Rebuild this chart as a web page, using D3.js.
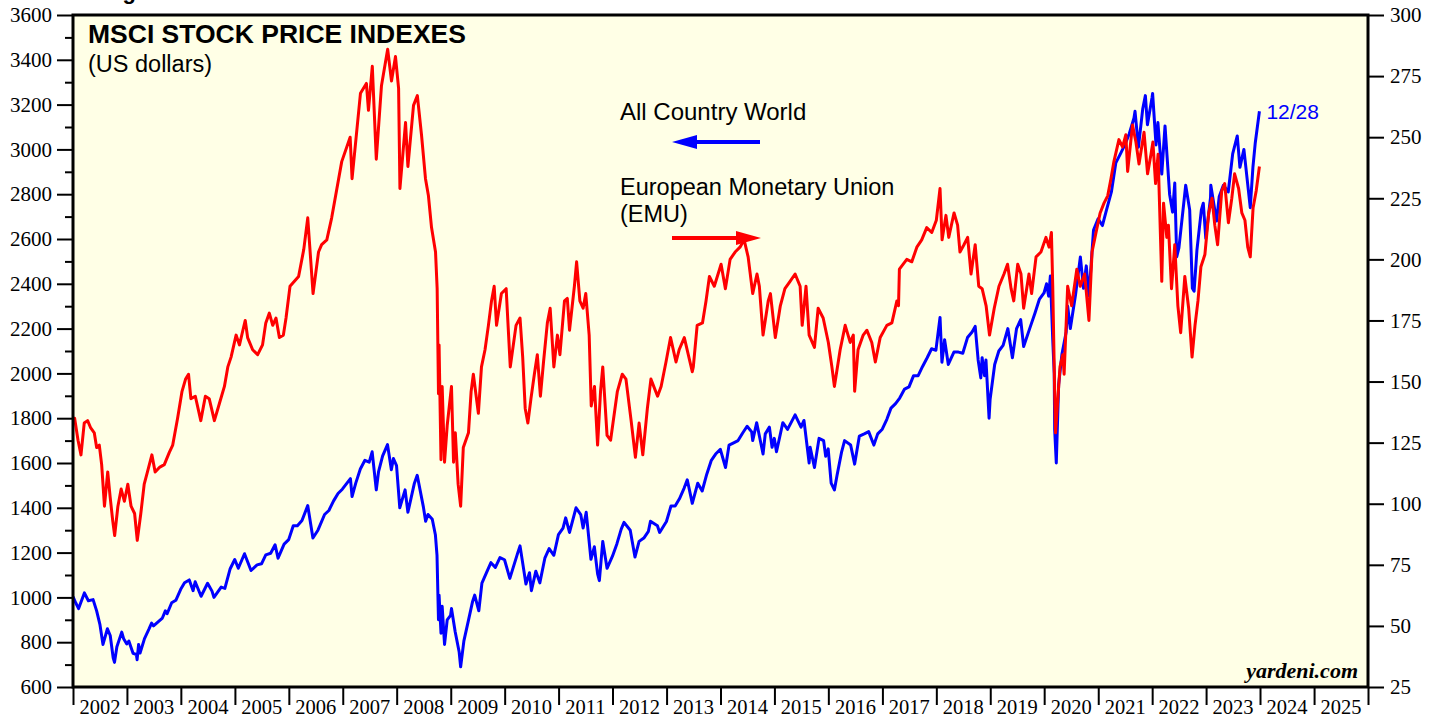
<!DOCTYPE html>
<html><head><meta charset="utf-8">
<script src="https://cdn.jsdelivr.net/npm/d3@7"></script>
<style>body{margin:0;background:#fff}svg{display:block}</style>
</head><body><svg id="c" width="1439" height="719"></svg>
<script>
// ---------- DATA ----------
const worldDates = ["2002-01-01","2002-01-20","2002-02-08","2002-03-19","2002-04-15","2002-05-17","2002-06-10","2002-07-02","2002-07-23","2002-08-22","2002-09-10","2002-09-30","2002-10-09","2002-10-25","2002-11-27","2002-12-10","2002-12-31",
"2003-01-14","2003-02-12","2003-03-06","2003-03-11","2003-03-21","2003-03-31","2003-04-30","2003-05-30","2003-06-17","2003-06-30","2003-07-31","2003-08-29","2003-09-18","2003-09-30","2003-10-31","2003-11-28","2003-12-31",
"2004-01-26","2004-02-27","2004-03-24","2004-04-07","2004-05-17","2004-06-30","2004-07-30","2004-08-12","2004-09-30","2004-10-25","2004-11-30","2004-12-31",
"2005-01-24","2005-03-07","2005-04-20","2005-05-31","2005-06-30","2005-07-29","2005-08-31","2005-09-30","2005-10-20","2005-11-30","2005-12-31",
"2006-01-31","2006-02-28","2006-03-31","2006-05-09","2006-06-13","2006-07-17","2006-08-31","2006-09-29","2006-10-31","2006-11-30","2006-12-29",
"2007-02-22","2007-03-05","2007-03-30","2007-04-30","2007-05-31","2007-06-29","2007-07-19","2007-08-16","2007-08-31","2007-09-28","2007-10-31","2007-11-26","2007-12-10","2007-12-31",
"2008-01-22","2008-02-27","2008-03-17","2008-04-30","2008-05-19","2008-06-30","2008-07-15","2008-07-31","2008-08-29","2008-09-19","2008-09-30","2008-10-10","2008-10-14","2008-10-27","2008-11-04","2008-11-20","2008-12-08","2008-12-31",
"2009-01-06","2009-01-31","2009-02-27","2009-03-09","2009-03-31","2009-04-30","2009-05-29","2009-06-12","2009-07-10","2009-07-31","2009-08-31","2009-09-30","2009-10-30","2009-11-30","2009-12-31",
"2010-02-05","2010-03-31","2010-04-15","2010-05-25","2010-06-18","2010-07-01","2010-07-31","2010-08-27","2010-09-30","2010-10-29","2010-11-30","2010-12-31",
"2011-01-31","2011-02-18","2011-03-16","2011-04-29","2011-05-31","2011-06-16","2011-07-07","2011-08-08","2011-08-31","2011-09-22","2011-10-04","2011-10-27","2011-11-25","2011-12-31",
"2012-01-31","2012-02-29","2012-03-19","2012-04-30","2012-06-01","2012-06-29","2012-07-31","2012-08-31","2012-09-14","2012-10-31","2012-11-15","2012-12-31",
"2013-01-31","2013-02-28","2013-03-29","2013-04-30","2013-05-21","2013-06-24","2013-07-31","2013-08-30","2013-09-30","2013-10-31","2013-11-29","2013-12-31",
"2014-02-04","2014-02-28","2014-03-31","2014-04-30","2014-05-30","2014-06-30","2014-07-31","2014-08-07","2014-09-03","2014-10-16","2014-10-31","2014-11-28","2014-12-16","2014-12-31",
"2015-01-15","2015-02-27","2015-03-31","2015-05-21","2015-06-30","2015-07-20","2015-08-24","2015-08-31","2015-09-29","2015-10-30","2015-11-30","2015-12-14","2015-12-31",
"2016-01-20","2016-02-11","2016-02-29","2016-03-31","2016-04-20","2016-05-31","2016-06-27","2016-07-29","2016-08-31","2016-09-30","2016-11-04","2016-11-30","2016-12-31",
"2017-01-31","2017-02-28","2017-03-31","2017-04-28","2017-05-31","2017-06-30","2017-07-31","2017-08-31","2017-09-29","2017-10-31","2017-11-30","2017-12-29",
"2018-01-26","2018-02-08","2018-02-26","2018-03-23","2018-04-30","2018-05-31","2018-06-29","2018-07-31","2018-08-31","2018-09-21","2018-10-11","2018-10-29","2018-11-07","2018-11-23","2018-12-03","2018-12-24","2018-12-31",
"2019-01-31","2019-02-28","2019-03-29","2019-04-30","2019-05-31","2019-06-28","2019-07-26","2019-08-15","2019-09-30","2019-10-31","2019-11-29","2019-12-31",
"2020-01-17","2020-01-31","2020-02-12","2020-02-28","2020-03-09","2020-03-12","2020-03-23","2020-04-08","2020-04-30","2020-05-29","2020-06-08","2020-06-26","2020-07-31","2020-09-02","2020-09-23","2020-10-12","2020-10-30","2020-11-30","2020-12-31",
"2021-01-29","2021-02-26","2021-03-31","2021-04-30","2021-05-31","2021-06-30","2021-07-30","2021-08-31","2021-09-07","2021-09-30","2021-10-29","2021-11-16","2021-11-30","2021-12-31",
"2022-01-04","2022-01-27","2022-02-09","2022-03-07","2022-03-29","2022-04-29","2022-05-19","2022-06-03","2022-06-16","2022-07-01","2022-08-16","2022-09-12","2022-09-30","2022-10-12","2022-10-31","2022-11-30","2022-12-13","2022-12-30",
"2023-01-31","2023-02-02","2023-03-13","2023-03-31","2023-04-28","2023-05-31","2023-06-30","2023-07-31","2023-08-18","2023-09-14","2023-10-27","2023-11-14","2023-11-30","2023-12-28"];
const worldValues = [1003,975,950,1020,985,990,940,880,790,860,830,730,710,780,845,815,792,
805,750,745,722,790,752,816,858,885,873,891,908,940,927,976,987,1036,
1065,1078,1030,1070,1005,1063,1028,1000,1046,1040,1128,1169,
1130,1195,1120,1145,1150,1190,1197,1235,1175,1238,1258,
1320,1320,1343,1410,1265,1300,1370,1388,1431,1464,1483,
1530,1450,1510,1573,1612,1604,1650,1480,1560,1632,1682,1570,1620,1588,
1400,1480,1380,1510,1545,1403,1340,1370,1349,1280,1188,900,1010,840,960,790,900,920,
950,847,756,690,806,895,982,1010,940,1064,1111,1155,1134,1178,1168,
1085,1200,1230,1060,1110,1030,1117,1065,1175,1218,1188,1280,
1309,1355,1290,1400,1370,1310,1380,1170,1226,1105,1075,1250,1130,1183,
1240,1305,1335,1300,1180,1250,1265,1295,1340,1320,1290,1339,
1408,1408,1440,1488,1525,1420,1510,1475,1550,1612,1640,1661,
1580,1680,1690,1700,1733,1764,1739,1700,1780,1640,1730,1760,1670,1710,
1650,1780,1750,1815,1760,1790,1600,1670,1580,1710,1700,1630,1663,
1510,1480,1545,1650,1700,1680,1595,1720,1730,1740,1680,1730,1751,
1795,1845,1865,1890,1930,1940,1990,1990,2030,2070,2110,2103,
2250,2050,2150,2040,2095,2095,2090,2160,2185,2210,2060,1980,2070,1990,2060,1800,1884,
2040,2100,2125,2200,2070,2200,2240,2120,2210,2270,2330,2359,
2400,2345,2435,2150,2000,1750,1600,1950,2085,2185,2300,2200,2350,2520,2380,2480,2345,2640,2690,
2660,2730,2810,2940,2980,3020,3070,3140,3170,3010,3180,3240,3110,3231,
3250,3020,3120,2890,3105,2800,2720,2850,2520,2560,2840,2730,2380,2367,2550,2730,2760,2603,
2785,2840,2680,2790,2840,2810,2980,3060,2920,3000,2740,2920,3030,3170];

const emuDates = ["2002-01-01","2002-01-12","2002-02-04","2002-02-24","2002-03-18","2002-04-10","2002-05-01","2002-05-25","2002-06-10","2002-06-28","2002-07-14","2002-08-02","2002-08-24","2002-09-09","2002-09-27","2002-10-10","2002-11-01","2002-11-23","2002-12-15",
"2003-01-07","2003-01-29","2003-02-22","2003-03-12","2003-04-05","2003-04-28","2003-05-20","2003-06-19","2003-07-11","2003-08-12","2003-09-11","2003-10-15","2003-11-07","2003-12-10",
"2004-01-09","2004-02-02","2004-02-22","2004-03-09","2004-04-08","2004-05-15","2004-06-15","2004-07-11","2004-08-15","2004-09-18","2004-10-22","2004-11-14","2004-12-06",
"2005-01-09","2005-02-01","2005-02-24","2005-03-12","2005-03-28","2005-05-01","2005-06-04","2005-07-07","2005-07-29","2005-08-22","2005-09-14","2005-10-06","2005-10-29","2005-11-25","2005-12-13",
"2006-01-09","2006-03-08","2006-04-12","2006-05-09","2006-06-14","2006-07-21","2006-08-11","2006-09-15","2006-10-18","2006-12-25",
"2007-02-20","2007-03-05","2007-05-01","2007-06-10","2007-06-24","2007-07-20","2007-08-16","2007-09-20","2007-11-01","2007-11-27","2007-12-24",
"2008-01-14","2008-01-23","2008-03-01","2008-03-17","2008-04-24","2008-05-20","2008-06-17","2008-07-14","2008-08-03","2008-08-24","2008-09-20","2008-10-01","2008-10-10","2008-10-14","2008-10-27","2008-11-04","2008-11-20","2008-12-08",
"2009-01-06","2009-01-20","2009-02-01","2009-02-20","2009-03-09","2009-03-27","2009-05-01","2009-05-19","2009-06-03","2009-07-07","2009-07-28","2009-08-21","2009-09-13","2009-10-04","2009-10-22","2009-11-07","2009-12-10",
"2010-01-11","2010-02-08","2010-03-19","2010-04-15","2010-05-03","2010-05-20","2010-06-07","2010-06-28","2010-07-21","2010-08-10","2010-08-31","2010-09-21","2010-10-17","2010-11-05","2010-11-30","2010-12-24",
"2011-01-10","2011-02-10","2011-03-01","2011-03-16","2011-04-18","2011-05-03","2011-05-25","2011-06-16","2011-07-04","2011-07-27","2011-08-10","2011-09-01","2011-09-22","2011-10-12","2011-10-27","2011-11-25","2011-12-19",
"2012-02-03","2012-03-07","2012-04-01","2012-05-06","2012-06-04","2012-06-29","2012-07-24","2012-08-24","2012-09-17","2012-11-01","2012-11-25","2012-12-28",
"2013-01-28","2013-03-06","2013-03-27","2013-05-01","2013-06-24","2013-07-01","2013-07-27","2013-09-01","2013-09-25","2013-10-18","2013-11-20",
"2014-01-05","2014-02-03","2014-03-07","2014-04-10","2014-05-13","2014-06-10","2014-07-07","2014-08-07","2014-09-05","2014-09-21","2014-10-16","2014-11-20","2014-12-05",
"2015-01-07","2015-02-10","2015-03-13","2015-04-17","2015-05-21","2015-06-24","2015-07-08","2015-08-03","2015-08-24","2015-09-29","2015-10-24","2015-11-27",
"2016-01-01","2016-01-25","2016-02-11","2016-03-21","2016-04-24","2016-05-28","2016-06-18","2016-06-27","2016-07-20","2016-08-24","2016-09-18","2016-10-21","2016-11-14","2016-12-17",
"2017-01-31","2017-03-06","2017-04-09","2017-04-20","2017-04-26","2017-06-15","2017-07-19","2017-08-22","2017-09-24","2017-10-28","2017-12-01",
"2018-01-01","2018-01-26","2018-02-09","2018-03-07","2018-03-26","2018-05-01","2018-05-25","2018-06-10","2018-07-07","2018-08-01","2018-08-24","2018-09-21","2018-10-15","2018-11-07","2018-12-04","2018-12-27",
"2019-01-28","2019-03-01","2019-04-04","2019-04-28","2019-05-22","2019-06-09","2019-07-06","2019-07-28","2019-08-15","2019-09-20","2019-10-08","2019-11-07","2019-12-10",
"2020-01-13","2020-02-03","2020-02-19","2020-02-28","2020-03-12","2020-03-18","2020-04-17","2020-05-06","2020-05-15","2020-06-08","2020-07-05","2020-08-09","2020-09-01","2020-10-01","2020-10-30","2020-11-20","2020-12-17",
"2021-01-14","2021-02-09","2021-03-06","2021-03-28","2021-04-17","2021-05-21","2021-06-15","2021-07-07","2021-07-19","2021-08-21","2021-09-13","2021-10-04","2021-11-07","2021-12-01","2021-12-24",
"2022-01-06","2022-01-24","2022-02-10","2022-03-07","2022-03-19","2022-04-10","2022-04-21","2022-05-12","2022-06-03","2022-06-24","2022-07-13","2022-08-10","2022-09-05","2022-09-28","2022-10-18","2022-11-07","2022-11-27","2022-12-24",
"2023-01-19","2023-02-10","2023-03-01","2023-03-20","2023-04-17","2023-05-07","2023-06-01","2023-06-24","2023-07-13","2023-08-09","2023-08-31","2023-09-21","2023-10-10","2023-10-27","2023-11-15","2023-12-06","2023-12-28"];
const emuValues = [135,135,126,120,133,134,131,129,123,124,116,99,113,103,93,87,99,106,101,
108,99,96,85,96,108,113,120,113,115,116,121,124,135,
146,151,153,143,144,134,144,143,134,141,148,156,160,
169,165,171,175,168,163,161,165,174,178,173,176,168,169,176,
189,193,204,217,186,203,206,208,217,240,
250,233,268,272,261,279,241,271,286,273,283,
270,229,256,238,263,267,251,233,226,213,203,188,145,165,118,148,117,132,
148,117,129,108,99,123,129,146,153,137,156,163,173,183,189,173,186,
188,156,173,176,160,139,133,143,153,161,144,158,174,180,156,169,
161,183,184,171,189,199,183,180,186,169,140,148,124,146,156,128,126,
146,153,151,134,119,133,120,139,151,144,148,158,
168,158,163,168,154,156,173,174,183,193,189,
198,188,200,203,205,208,201,186,194,189,169,183,186,
168,181,188,191,194,189,173,189,169,164,180,176,
166,156,148,163,173,166,169,146,163,169,171,166,158,168,
173,174,183,181,196,200,199,205,208,213,211,
216,229,208,218,209,219,214,203,206,209,194,206,189,188,181,169,
180,189,194,198,188,183,198,194,180,194,186,201,203,
209,205,211,189,146,129,156,161,153,189,181,196,189,194,175,203,211,
219,223,226,233,240,249,246,251,236,255,248,239,252,235,243,
248,231,243,191,223,209,214,188,206,181,170,193,180,160,173,183,197,202,
219,225,214,206,228,231,215,225,235,229,219,216,205,201,221,228,238];

const leftTicks = [600,800,1000,1200,1400,1600,1800,2000,2200,2400,2600,2800,3000,3200,3400,3600];
const leftMinorTicks = [700,900,1100,1300,1500,1700,1900,2100,2300,2500,2700,2900,3100,3300,3500];
const rightTicks = [25,50,75,100,125,150,175,200,225,250,275,300];
const yearLabels = [2002,2003,2004,2005,2006,2007,2008,2009,2010,2011,2012,2013,2014,2015,2016,2017,2018,2019,2020,2021,2022,2023,2024,2025];

// ---------- LAYOUT ----------
const L = 73, R = 1368, T = 15, B = 687;
const svg = d3.select("#c");
const parse = d3.timeParse("%Y-%m-%d");
const x = d3.scaleTime().domain([new Date(2002,0,1), new Date(2026,0,1)]).range([L, R]);
const yL = d3.scaleLinear().domain([600,3600]).range([B, T]);
const yR = d3.scaleLinear().domain([25,300]).range([B, T]);

svg.append("rect").attr("x",L).attr("y",T).attr("width",R-L).attr("height",B-T).attr("fill","#FFFFE6");

svg.append("defs").append("clipPath").attr("id","clip").append("rect")
  .attr("x",L+1).attr("y",T+1).attr("width",R-L-2).attr("height",B-T-2);

const world = worldDates.map((d,i)=>({d:parse(d), v:worldValues[i]}));
const emu = emuDates.map((d,i)=>({d:parse(d), v:emuValues[i]}));

const g = svg.append("g").attr("clip-path","url(#clip)");
g.append("path").datum(world).attr("fill","none").attr("stroke","#0000FF").attr("stroke-width",3)
  .attr("stroke-linejoin","round").attr("d", d3.line().x(p=>x(p.d)).y(p=>yL(p.v)));
g.append("path").datum(emu).attr("fill","none").attr("stroke","#FF0000").attr("stroke-width",3)
  .attr("stroke-linejoin","round").attr("d", d3.line().x(p=>x(p.d)).y(p=>yR(p.v)));

// frame
svg.append("rect").attr("x",L).attr("y",T).attr("width",R-L).attr("height",B-T)
  .attr("fill","none").attr("stroke","#000").attr("stroke-width",3);

const tickFont = "'Liberation Serif','Times New Roman',serif";
function styleAxis(sel){
  sel.select(".domain").remove();
  sel.selectAll(".tick line").attr("stroke","#000").attr("stroke-width",2);
  sel.selectAll(".tick text").attr("fill","#000").style("font-family",tickFont).style("font-size","21px");
}
// left axis
svg.append("g").attr("transform",`translate(${L},0)`)
  .call(d3.axisLeft(yL).tickValues(leftTicks).tickSize(16).tickPadding(5).tickFormat(d3.format("d")))
  .call(styleAxis);
svg.append("g").attr("transform",`translate(${L},0)`)
  .call(d3.axisLeft(yL).tickValues(leftMinorTicks).tickSize(8).tickFormat(""))
  .call(styleAxis);
// right axis
svg.append("g").attr("transform",`translate(${R},0)`)
  .call(d3.axisRight(yR).tickValues(rightTicks).tickSize(16).tickPadding(6).tickFormat(d3.format("d")))
  .call(styleAxis);
// bottom axis: year boundary ticks
const yearBounds = yearLabels.map(y=>new Date(y,0,1)).concat([new Date(2026,0,1)]);
svg.append("g").attr("transform",`translate(0,${B})`)
  .call(d3.axisBottom(x).tickValues(yearBounds).tickSize(18).tickFormat(""))
  .call(styleAxis);
svg.append("g").selectAll("text").data(yearLabels).join("text")
  .attr("x", yv => x(new Date(yv,6,2))).attr("y",714).attr("text-anchor","middle")
  .style("font-family",tickFont).style("font-size","20.5px").text(d=>d);

// ---------- TEXT ----------
const sans = "'Liberation Sans',Arial,sans-serif";
svg.append("text").attr("x",103).attr("y",-1).style("font-family",sans).style("font-weight","bold").style("font-size","22px").text("Figure");
svg.append("text").attr("x",88).attr("y",43).style("font-family",sans).style("font-weight","bold").style("font-size","26.5px").text("MSCI STOCK PRICE INDEXES");
svg.append("text").attr("x",88).attr("y",72).style("font-family",sans).style("font-size","23.5px").text("(US dollars)");

svg.append("text").attr("x",620).attr("y",120).style("font-family",sans).style("font-size","24px").text("All Country World");
svg.append("text").attr("x",620).attr("y",195).style("font-family",sans).style("font-size","23.5px").text("European Monetary Union");
svg.append("text").attr("x",620).attr("y",222).style("font-family",sans).style("font-size","23.5px").text("(EMU)");

// arrows
svg.append("line").attr("x1",692).attr("x2",760).attr("y1",142).attr("y2",142).attr("stroke","#0000FF").attr("stroke-width",4);
svg.append("path").attr("d","M672,142 L697,135 L697,149 Z").attr("fill","#0000FF");
svg.append("line").attr("x1",672).attr("x2",742).attr("y1",238).attr("y2",238).attr("stroke","#FF0000").attr("stroke-width",4);
svg.append("path").attr("d","M761,238 L736,231 L736,245 Z").attr("fill","#FF0000");

const last = world[world.length-1];
svg.append("text").attr("x",x(last.d)+7).attr("y",yL(last.v)+8).attr("fill","#0000FF")
  .style("font-family",sans).style("font-size","21px").text("12/28");

svg.append("text").attr("x",1358).attr("y",678).attr("text-anchor","end")
  .style("font-family",tickFont).style("font-weight","bold").style("font-style","italic").style("font-size","22px").text("yardeni.com");
</script></body></html>
